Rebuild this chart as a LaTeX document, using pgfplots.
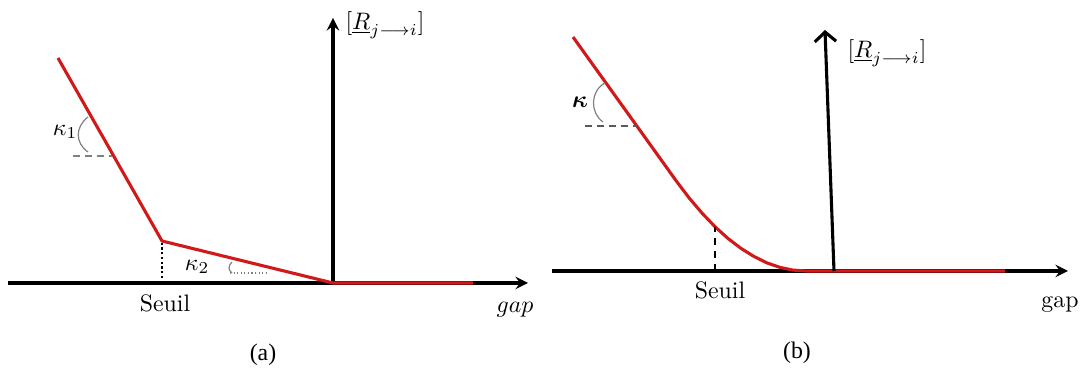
\documentclass[border=0pt]{standalone}
\usepackage{amsmath}
\usepackage{fontspec}
\newfontfamily\capfont{Liberation Serif}
\usepackage{pgfplots}
\pgfplotsset{compat=1.18}
\usetikzlibrary{arrows.meta}
\definecolor{cred}{RGB}{210,25,25}
\begin{document}
\begin{tikzpicture}
\pgfplotsset{
  myaxis/.style={
    x=0.42pt, y=0.42pt, anchor=south west, enlargelimits=false, clip=false,
    xtick=\empty, ytick=\empty, ymin=0,
    axis line style={line width=1.3pt},
    every inner x axis line/.append style={-{Straight Barb[length=4pt,width=9pt]}},
    every inner y axis line/.append style={-{Straight Barb[length=4pt,width=9pt]}},
  },
}
% ---------------- panel (a) ----------------
\begin{axis}[myaxis, at={({8*0.42pt},{85*0.42pt})}, axis lines=middle,
  xmin=-325, xmax=195, ymax=265]
\addplot[cred, line width=1.3pt, line join=round] coordinates {(-275,225) (-171,42) (0,0) (140,0)};
\addplot[black, densely dotted, line width=1pt] coordinates {(-171,0) (-171,42)};
\addplot[gray, densely dashed, line width=0.5pt] coordinates {(-260,127) (-221,127)};
\addplot[gray, densely dotted, line width=0.5pt] coordinates {(-103,10) (-66,10)};
\draw[gray, line width=0.5pt] (axis cs:-245,166) .. controls (axis cs:-258,156) and (axis cs:-258,140) .. (axis cs:-245,131);
\draw[gray, line width=0.5pt] (axis cs:-101,21) .. controls (axis cs:-105,17) and (axis cs:-105,13) .. (axis cs:-101,10);
\node at (axis cs:-268,151) {$\kappa_1$};
\node at (axis cs:-136,16) {$\kappa_2$};
\node[anchor=base] at (axis cs:-168,-29) {Seuil};
\node[anchor=base] at (axis cs:182,-30) {$gap$};
\node at (axis cs:52,258) {$[\underline{R}_{j\longrightarrow i}]$};
\end{axis}
% ---------------- panel (b) ----------------
\begin{axis}[myaxis, at={({552*0.42pt},{97*0.42pt})}, axis x line=middle, axis y line=none,
  xmin=-282, xmax=234, ymax=241]
\addplot[cred, line width=1.3pt, line join=round] coordinates {(-261,234) (-158,90.4) (-145,73.2) (-132,57.9) (-119,44.3) (-106,32.5) (-93,22.6) (-80,14.5) (-67,8.1) (-54,3.6) (-41,0.9) (-28,0) (171,0)};
\addplot[black, dash pattern=on 3pt off 2.5pt, line width=0.8pt] coordinates {(-119,0) (-119,44)};
\addplot[gray!70!black, densely dashed, line width=0.5pt] coordinates {(-249,145) (-197,145)};
\draw[gray, line width=0.5pt] (axis cs:-229,188) .. controls (axis cs:-244,180) and (axis cs:-244,158) .. (axis cs:-231,149);
\draw[line width=1.3pt, -{Straight Barb[length=4pt,width=9pt]}] (axis cs:0,0) -- (axis cs:-9,241);
\node at (axis cs:-254,169) {$\boldsymbol{\kappa}$};
\node[anchor=base] at (axis cs:-114,-28) {Seuil};
\node[anchor=base] at (axis cs:226,-37) {gap};
\node at (axis cs:53,218) {$[\underline{R}_{j\longrightarrow i}]$};
\end{axis}
\begin{scope}[x=0.42pt, y=0.42pt]
\node[font=\capfont] at (263,13) {(a)};
\node[font=\capfont] at (797,15) {(b)};
\pgfresetboundingbox
\useasboundingbox (0,0) rectangle (1084,368);
\end{scope}
\end{tikzpicture}
\end{document}
